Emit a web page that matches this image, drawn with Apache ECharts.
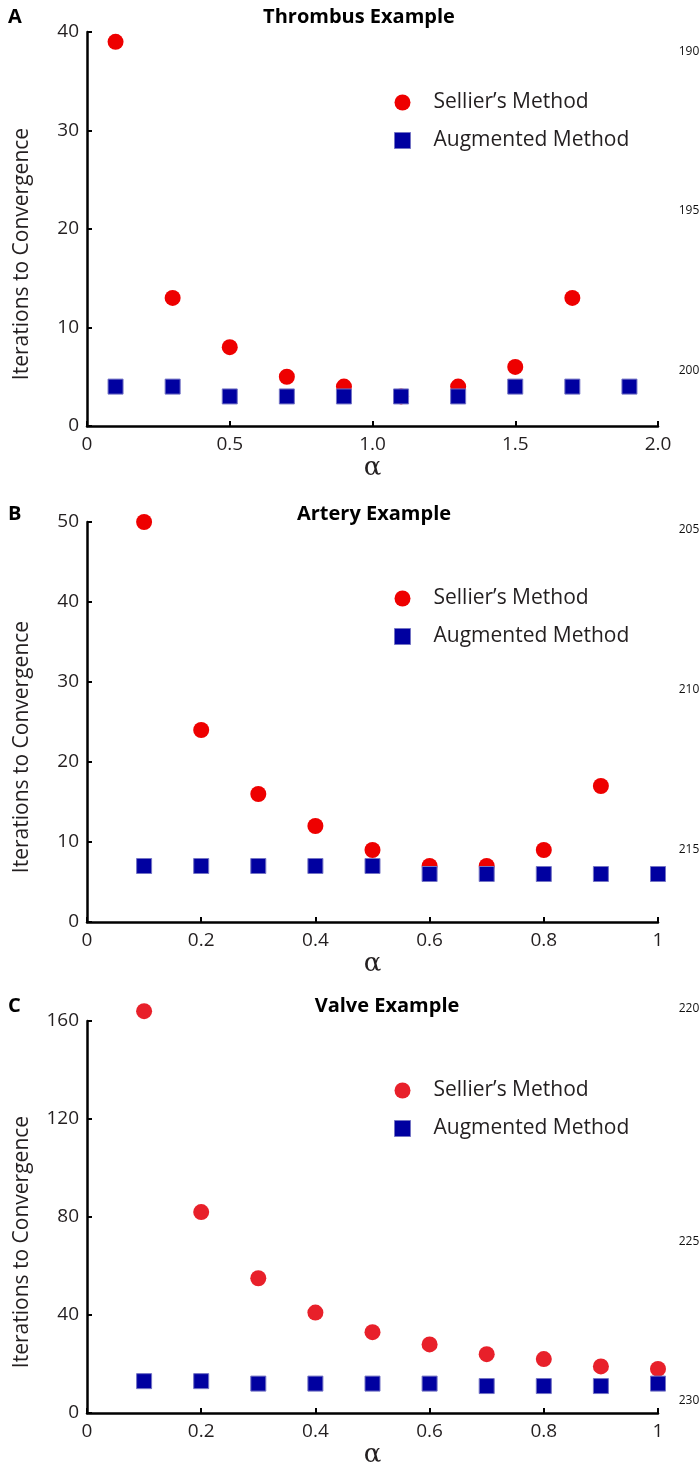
<!DOCTYPE html>
<html>
<head>
<meta charset="utf-8">
<script src="https://cdn.jsdelivr.net/npm/echarts@6/dist/echarts.min.js"></script>
<style>
  html, body { margin: 0; padding: 0; background: #fff; }
  #chart { width: 700px; height: 1472px; }
</style>
</head>
<body>
<div id="chart"></div>
<script>
// panel A - thrombus
const alphaA = [0.1, 0.3, 0.5, 0.7, 0.9, 1.1, 1.3, 1.5, 1.7, 1.9];
const sellierA = [39, 13, 8, 5, 4, 3, 4, 6, 13];
const augmentedA = [4, 4, 3, 3, 3, 3, 3, 4, 4, 4];
// panel B - artery
const alphaB = [0.1, 0.2, 0.3, 0.4, 0.5, 0.6, 0.7, 0.8, 0.9, 1.0];
const sellierB = [50, 24, 16, 12, 9, 7, 7, 9, 17];
const augmentedB = [7, 7, 7, 7, 7, 6, 6, 6, 6, 6];
// panel C - valve
const alphaC = [0.1, 0.2, 0.3, 0.4, 0.5, 0.6, 0.7, 0.8, 0.9, 1.0];
const sellierC = [164, 82, 55, 41, 33, 28, 24, 22, 19, 18];
const augmentedC = [13, 13, 12, 12, 12, 12, 11, 11, 11, 12];

const titles = ['Thrombus Example', 'Artery Example', 'Valve Example'];
const letters = ['A', 'B', 'C'];
const yMax = [40, 50, 160];
const yStep = [10, 10, 40];
const xMax = [2, 1, 1];
const xStep = [0.5, 0.2, 0.2];
const lineNumbers = ['190', '195', '200', '205', '210', '215', '220', '225', '230'];

const SELLIER = "Sellier\u2019s Method";
const AUGMENTED = 'Augmented Method';
const FONT = "'Open Sans', 'Noto Sans', sans-serif";
const TXT = '#231f20';
const RED = ['#ee0000', '#ee0000', '#e8202a'];
const BLUE = '#0000a0';

const pairs = (xs, ys) => ys.map((v, i) => [xs[i], v]);

// layout of the three panels (pixels)
const gridTop = [32, 522, 1021];
const gridHeight = [394, 400, 392];
const titleX = [359, 374, 387];
const titleY = [16, 513, 1005];
const legendTop = [92, 588, 1080];
const lineNumY = [52, 211, 371, 530, 690, 850, 1009, 1242, 1401];

const chart = echarts.init(document.getElementById('chart'));

const grid = [], xAxis = [], yAxis = [], series = [], legend = [], title = [], graphic = [];

const panels = [
    [alphaA, sellierA, augmentedA],
    [alphaB, sellierB, augmentedB],
    [alphaC, sellierC, augmentedC],
];

panels.forEach((p, i) => {
    grid.push({ left: 87, right: 42, top: gridTop[i], height: gridHeight[i] });
    xAxis.push({
        type: 'value', gridIndex: i, min: 0, max: xMax[i], interval: xStep[i],
        name: '\u03b1', nameLocation: 'middle', nameGap: 28,
        nameTextStyle: { fontFamily: "'DejaVu Serif', serif", fontSize: 26, color: TXT },
        axisLine: { lineStyle: { color: '#000', width: 2.5 } },
        axisTick: { inside: true, length: 5, lineStyle: { color: '#000', width: 2 } },
        splitLine: { show: false },
        axisLabel: {
            margin: 9, color: TXT, fontFamily: FONT, fontSize: 19,
            formatter: v => (v === 0 || (v === 1 && xMax[i] === 1)) ? String(v) : v.toFixed(1),
        },
    });
    yAxis.push({
        type: 'value', gridIndex: i, min: 0, max: yMax[i], interval: yStep[i],
        name: 'Iterations to Convergence', nameLocation: 'middle', nameGap: 54,
        nameTextStyle: { fontFamily: FONT, fontSize: 21, color: TXT, padding: [0, 50, 0, 0] },
        axisLine: { show: true, lineStyle: { color: '#000', width: 2.5 } },
        axisTick: { show: true, inside: true, length: 5, lineStyle: { color: '#000', width: 2 } },
        splitLine: { show: false },
        axisLabel: { margin: 8, color: TXT, fontFamily: FONT, fontSize: 19 },
    });
    series.push({
        name: SELLIER, type: 'scatter', xAxisIndex: i, yAxisIndex: i, clip: false,
        symbol: 'circle', symbolSize: 16,
        itemStyle: { color: RED[i], opacity: 1 },
        data: pairs(p[0], p[1]),
    });
    series.push({
        name: AUGMENTED, type: 'scatter', xAxisIndex: i, yAxisIndex: i, clip: false,
        symbol: 'rect', symbolSize: 15,
        itemStyle: { color: BLUE, borderColor: '#7474c4', borderWidth: 1, opacity: 1 },
        data: pairs(p[0], p[2]),
    });
    legend.push({
        orient: 'vertical', left: 394, top: legendTop[i], padding: 0,
        itemWidth: 16, itemHeight: 16, itemGap: 17, selectedMode: false,
        textStyle: { fontFamily: FONT, fontSize: 21, color: TXT, padding: [0, 0, 0, 18] },
        data: [
            { name: SELLIER, icon: 'circle', itemStyle: { color: RED[i] } },
            { name: AUGMENTED, icon: 'rect', itemStyle: { color: BLUE, borderColor: '#7474c4', borderWidth: 1 } },
        ],
    });
    title.push({
        text: titles[i], left: titleX[i], top: titleY[i] - 9, textAlign: 'center', padding: 0,
        textStyle: { fontFamily: FONT, fontSize: 20, fontWeight: 'bold', color: '#000' },
    });
    graphic.push({
        type: 'text', left: 8, top: titleY[i] - 9,
        style: { text: letters[i], font: 'bold 20px ' + FONT, fill: '#000' },
    });
});

lineNumbers.forEach((t, k) => {
    graphic.push({
        type: 'text', x: 689, y: lineNumY[k],
        style: { text: t, font: '12px ' + FONT, fill: '#111', align: 'center', verticalAlign: 'middle' },
    });
});

chart.setOption({
    animation: false,
    backgroundColor: '#fff',
    title, grid, xAxis, yAxis, series, legend, graphic,
});
</script>
</body>
</html>
